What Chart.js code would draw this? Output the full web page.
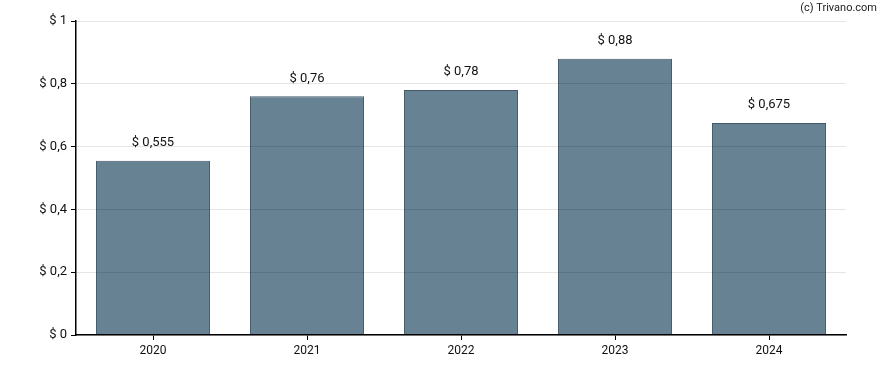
<!DOCTYPE html>
<html>
<head>
<meta charset="utf-8">
<script src="https://cdn.jsdelivr.net/npm/chart.js@4"></script>
<style>
  html, body { margin: 0; padding: 0; background: #fff; }
  #wrap { position: relative; width: 888px; height: 370px; }
</style>
</head>
<body>
<div id="wrap"><canvas id="chart" width="888" height="370"></canvas></div>
<script>
// --- DADOS ---
const anos = ['2020', '2021', '2022', '2023', '2024'];
const dividendos = [0.555, 0.76, 0.78, 0.88, 0.675];
const rotulos = ['$ 0,555', '$ 0,76', '$ 0,78', '$ 0,88', '$ 0,675'];

const formatarEixo = v => '$ ' + String(Math.round(v * 10) / 10).replace('.', ',');

// --- PLUGINS ---
const rotulosBarras = {
    id: 'rotulosBarras',
    afterDatasetsDraw(chart) {
        const ctx = chart.ctx;
        const meta = chart.getDatasetMeta(0);
        ctx.save();
        ctx.font = '13px Roboto';
        ctx.fillStyle = '#111';
        ctx.textAlign = 'center';
        ctx.textBaseline = 'middle';
        meta.data.forEach((bar, i) => {
            ctx.fillText(rotulos[i], bar.x, bar.y - 18);
        });
        ctx.restore();
    }
};

const marcaDagua = {
    id: 'marcaDagua',
    afterDraw(chart) {
        const ctx = chart.ctx;
        ctx.save();
        ctx.font = '11px Roboto';
        ctx.fillStyle = '#222';
        ctx.textAlign = 'right';
        ctx.textBaseline = 'middle';
        ctx.fillText('(c) Trivano.com', 877, 8);
        ctx.restore();
    }
};

new Chart(document.getElementById('chart'), {
    type: 'bar',
    data: {
        labels: anos,
        datasets: [{
            data: dividendos,
            backgroundColor: '#668293',
            borderColor: '#44596a',
            borderWidth: 1,
            barPercentage: 0.74,
            categoryPercentage: 1
        }]
    },
    options: {
        responsive: false,
        animation: false,
        layout: { padding: { left: 0, right: 42, top: 21, bottom: 0 } },
        plugins: { legend: { display: false }, tooltip: { enabled: false } },
        scales: {
            x: {
                grid: { display: true, offset: false, drawOnChartArea: false, drawTicks: true, tickLength: 5, tickColor: '#000', z: 1 },
                border: { color: '#000', width: 1.5, z: 2 },
                ticks: { color: '#111', font: { family: 'Roboto', size: 12 }, padding: 4 },
                afterFit: s => { s.height = 35; }
            },
            y: {
                min: 0,
                max: 1,
                ticks: { stepSize: 0.2, callback: formatarEixo, color: '#111', font: { family: 'Roboto', size: 13 }, padding: 4 },
                grid: { color: 'rgba(0,0,0,0.1)', z: 1, tickLength: 5, tickColor: '#000' },
                border: { color: '#000', width: 1.5, z: 2 },
                afterFit: s => { s.width = 76; }
            }
        }
    },
    plugins: [rotulosBarras, marcaDagua]
});
</script>
</body>
</html>
